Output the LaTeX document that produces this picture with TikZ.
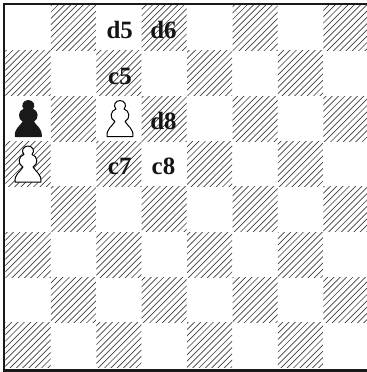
\documentclass[tikz,border=0pt]{standalone}
\usepackage{fontspec}
\setmainfont{TeX Gyre Heros}
\newfontfamily\lblfont{Liberation Serif}[BoldFont={Liberation Serif Bold}]
\tikzset{
  hatchline/.style={draw=black!75,line width=0.65pt},
  lbl/.style={font=\lblfont\bfseries\fontsize{25}{25}\selectfont,inner sep=0pt,text=black!92},
  pawnshape/.pic={
    \path[pic actions,line width=1pt,line join=round]
      (-13,0) .. controls (-13.5,8) and (-8,10) .. (-5,15)
      .. controls (-10.5,17.5) and (-10,26) .. (-4,27.5)
      .. controls (-7.5,31) and (-4.5,36) .. (0,36)
      .. controls (4.5,36) and (7.5,31) .. (4,27.5)
      .. controls (10,26) and (10.5,17.5) .. (5,15)
      .. controls (8,10) and (13.5,8) .. (13,0) -- cycle;
  },
  whitepawn/.style={draw=black,fill=white},
  blackpawn/.style={draw=black!90,fill=black!90}
}
\begin{document}
\begin{tikzpicture}[x=1bp,y=-1bp]
\useasboundingbox (0,0) rectangle (367,372);
\fill[white] (0,0) rectangle (367,372);
\foreach \c in {0,...,7}{
  \foreach \r in {0,...,7}{
    \pgfmathtruncatemacro{\odd}{mod(\c+\r,2)}
    \ifnum\odd=1
      \begin{scope}
        \clip ({5.5+45.4*\c},{5.5+45.3*\r}) rectangle ({5.5+45.4*\c+45},{5.5+45.3*\r+45});
        \foreach \k in {0,...,120}{
          \draw[hatchline] ({\k*6.3-2},380) -- ({\k*6.3+378},0);
          \draw[hatchline] ({-\k*6.3-2},380) -- ({-\k*6.3+378},0);
        }
      \end{scope}
    \fi
  }
}
\draw[black!90,line width=2.2bp] (4,370) -- (4,4) -- (367,4);
\draw[black!90,line width=3bp] (3,370.3) -- (367,370.3);
\node[lbl] (d5) at (119.7,29.5) {d5};
\node[lbl] (d6) at (163.5,29.5) {d6};
\node[lbl] (c5) at (120,76) {c5};
\node[lbl] (d8) at (163.5,120.5) {d8};
\node[lbl] (c7) at (119.7,166.5) {c7};
\node[lbl] (c8) at (163.5,166.5) {c8};
\begin{scope}[y=1bp]
\pic[blackpawn] at (28.3,-136.5) {pawnshape};
\pic[whitepawn] at (120,-136.5) {pawnshape};
\pic[whitepawn] at (28,-182) {pawnshape};
\end{scope}
\end{tikzpicture}
\end{document}
